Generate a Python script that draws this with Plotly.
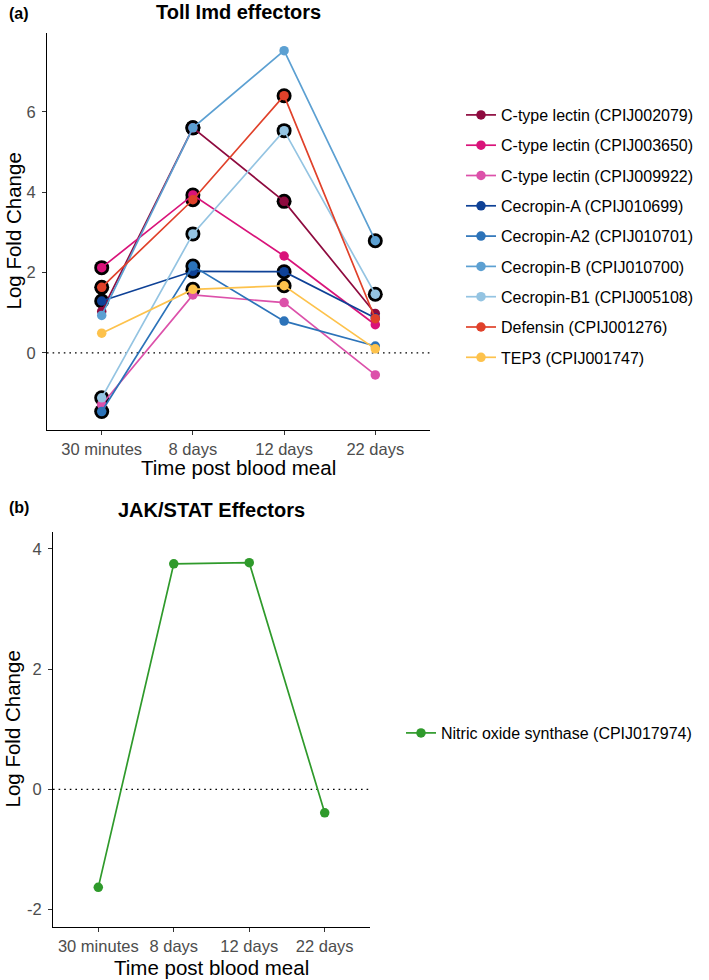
import plotly.graph_objects as go

# datos
tiempos = ["30 minutes", "8 days", "12 days", "22 days"]

genes_toll = [
    "C-type lectin (CPIJ002079)",
    "C-type lectin (CPIJ003650)",
    "C-type lectin (CPIJ009922)",
    "Cecropin-A (CPIJ010699)",
    "Cecropin-A2 (CPIJ010701)",
    "Cecropin-B (CPIJ010700)",
    "Cecropin-B1 (CPIJ005108)",
    "Defensin (CPIJ001276)",
    "TEP3 (CPIJ001747)",
]
ctl_002079 = [1.03, 5.60, 3.77, 0.98]
ctl_003650 = [2.12, 3.93, 2.41, 0.70]
ctl_009922 = [-1.29, 1.44, 1.25, -0.55]
cec_a = [1.29, 2.03, 2.02, 0.87]
cec_a2 = [-1.46, 2.16, 0.79, 0.17]
cec_b = [0.93, 5.60, 7.52, 2.79]
cec_b1 = [-1.12, 2.96, 5.53, 1.46]
defensin = [1.63, 3.81, 6.40, 0.85]
tep3 = [0.49, 1.58, 1.67, 0.10]

# puntos significativos (con borde negro)
sig_002079 = [False, True, True, False]
sig_003650 = [True, True, False, False]
sig_009922 = [False, False, False, False]
sig_cec_a = [True, True, True, False]
sig_cec_a2 = [True, True, False, False]
sig_cec_b = [False, True, False, True]
sig_cec_b1 = [True, True, True, True]
sig_defensin = [True, True, True, False]
sig_tep3 = [False, True, True, False]

gen_jak = "Nitric oxide synthase (CPIJ017974)"
nos = [-1.63, 3.75, 3.77, -0.39]

# marcas del eje y
ticks_a = [0, 2, 4, 6]
ticks_b = [-2, 0, 2, 4]
etiquetas_b = ["-2", "0", "2", "4"]

valores_toll = [ctl_002079, ctl_003650, ctl_009922, cec_a, cec_a2, cec_b, cec_b1, defensin, tep3]
sig_toll = [sig_002079, sig_003650, sig_009922, sig_cec_a, sig_cec_a2, sig_cec_b, sig_cec_b1,
            sig_defensin, sig_tep3]
colores = ["#8E0B3F", "#D9137A", "#DC51AA", "#0E4196", "#2C73B9", "#5CA0D2", "#94C4E2",
           "#E0412A", "#FDC24C"]
color_nos = "#2F9A2B"

W, H = 709, 980
FONT = "Liberation Sans, Arial, sans-serif"


def px_x(v):
    return v / W


def px_y(v):
    return 1 - v / H


fig = go.Figure()

# capa de bordes negros (debajo de los puntos de color)
for vals, sig in zip(valores_toll, sig_toll):
    fig.add_trace(go.Scatter(
        x=[t for t, s in zip(tiempos, sig) if s], y=[v for v, s in zip(vals, sig) if s],
        mode="markers", marker=dict(size=15, color="black"),
        showlegend=False, hoverinfo="skip", xaxis="x", yaxis="y"))

for i, (nombre, vals) in enumerate(zip(genes_toll, valores_toll)):
    fig.add_trace(go.Scatter(
        x=tiempos, y=vals, name=nombre, mode="lines+markers",
        line=dict(color=colores[i], width=1.7),
        marker=dict(size=9.5, color=colores[i]),
        legendgroup=nombre, legend="legend", xaxis="x", yaxis="y"))

fig.add_trace(go.Scatter(
    x=tiempos, y=nos, name=gen_jak, mode="lines+markers",
    line=dict(color=color_nos, width=1.7), marker=dict(size=9.5, color=color_nos),
    legend="legend2", xaxis="x2", yaxis="y2"))

eje = dict(showline=True, linecolor="black", linewidth=1.2, ticks="outside", ticklen=4,
           tickcolor="#333333", tickwidth=1.1, showgrid=False, zeroline=False,
           tickfont=dict(family=FONT, size=16.5, color="#4D4D4D"))
eje_x = dict(eje, type="category", categoryorder="array", categoryarray=tiempos,
             range=[-0.6, 3.6], ticklabelstandoff=0)
eje_y = dict(eje, ticklabelstandoff=3)

fig.update_layout(
    width=W, height=H, margin=dict(l=0, r=0, t=0, b=0),
    paper_bgcolor="white", plot_bgcolor="white",
    font=dict(family=FONT, color="black"),
    xaxis=dict(eje_x, domain=[px_x(47), px_x(430)], anchor="y"),
    yaxis=dict(eje_y, range=[-1.92, 7.96], tickvals=ticks_a,
               domain=[px_y(430), px_y(33)], anchor="x"),
    xaxis2=dict(eje_x, domain=[px_x(53), px_x(370)], anchor="y2"),
    yaxis2=dict(eje_y, range=[-2.29, 4.28], tickvals=ticks_b, ticktext=etiquetas_b,
                domain=[px_y(927), px_y(532)], anchor="x2"),
    legend=dict(x=px_x(461), xanchor="left", y=px_y(236.5), yanchor="middle",
                font=dict(family=FONT, size=16, color="black"), tracegroupgap=6.5,
                bgcolor="rgba(0,0,0,0)"),
    legend2=dict(x=px_x(401), xanchor="left", y=px_y(733), yanchor="middle",
                 font=dict(family=FONT, size=16, color="black"),
                 bgcolor="rgba(0,0,0,0)"),
)

# línea punteada en cero
for xr, yr in [("x domain", "y"), ("x2 domain", "y2")]:
    fig.add_shape(type="line", xref=xr, yref=yr, x0=0, x1=1, y0=0, y1=0,
                  line=dict(color="black", width=1.3, dash="1.6px,4px"), layer="below")

textos = [
    ("<b>(a)</b>", 7, 13, 16, "left", 0),
    ("<b>Toll Imd effectors</b>", 238.5, 12, 20, "center", 0),
    ("Time post blood meal", 238.5, 468, 20.5, "center", 0),
    ("Log Fold Change", 13, 231.5, 20.5, "center", -90),
    ("<b>(b)</b>", 7, 507, 16, "left", 0),
    ("<b>JAK/STAT Effectors</b>", 211.5, 510, 20, "center", 0),
    ("Time post blood meal", 211.5, 967, 20.5, "center", 0),
    ("Log Fold Change", 12, 729.5, 20.5, "center", -90),
]
for txt, x, y, size, xa, ang in textos:
    fig.add_annotation(text=txt, x=px_x(x), y=px_y(y), xref="paper", yref="paper",
                       xanchor=xa, yanchor="middle", showarrow=False, textangle=ang,
                       font=dict(family=FONT, size=size, color="black"))

# sin margen del body para que la figura ocupe la ventana
fig.write_html("out.html", config={"displayModeBar": False},
               post_script="document.body.style.margin='0';")
